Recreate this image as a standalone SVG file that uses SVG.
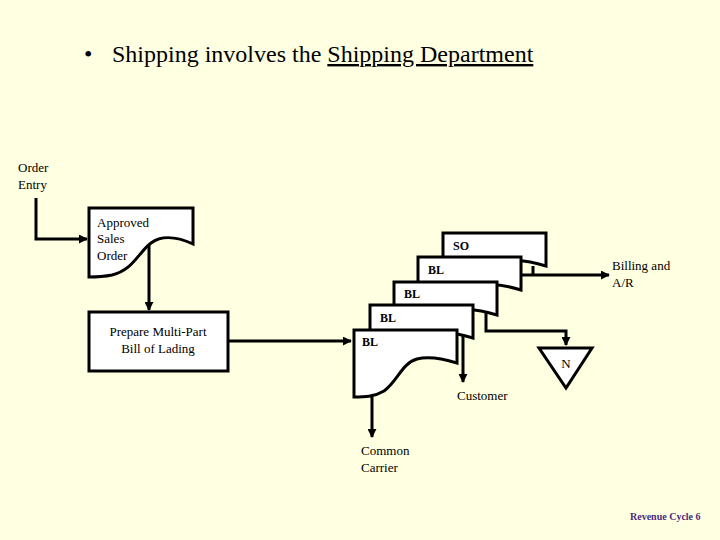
<svg xmlns="http://www.w3.org/2000/svg" width="720" height="540" viewBox="0 0 720 540">
<style>
.t{font-family:"Liberation Serif","Times New Roman",serif;fill:#000}
.s{font-size:13px}
.b{font-size:12px;font-weight:bold}
.doc{fill:#fff;stroke:#000;stroke-width:3;stroke-linejoin:miter}
.box{fill:#fff;stroke:#000;stroke-width:3}
.c{fill:none;stroke:#000;stroke-width:3}
</style>
<defs>
<marker id="ah" viewBox="0 0 10 10" refX="9" refY="5" markerWidth="3" markerHeight="3" orient="auto" markerUnits="strokeWidth">
<path d="M0,0 L10,5 L0,10 Z" fill="#000"/>
</marker>
<path id="bl" d="M0,0 H103 V33 C90,29 75,26 63,29 C48,33 43,52 30,61 C20,67 10,67 0,67 Z"/>
</defs>
<rect width="720" height="540" fill="#FFFFE1"/>
<g id="title">
<text class="t" x="84" y="62" font-size="24">•</text>
<text class="t" x="112" y="62" font-size="24">Shipping involves the <tspan text-decoration="underline">Shipping Department</tspan></text>
</g>
<g id="connectors">
<path class="c" d="M36,198 V239 H87" marker-end="url(#ah)"/>
<path class="c" d="M149,243 V310" marker-end="url(#ah)"/>
<path class="c" d="M228,341 H351" marker-end="url(#ah)"/>
<path class="c" d="M533,266 V275"/>
<path class="c" d="M522,275 H609" marker-end="url(#ah)"/>
<path class="c" d="M486,312 V331 H566 V345" marker-end="url(#ah)"/>
<path class="c" d="M463,336 V382" marker-end="url(#ah)"/>
<path class="c" d="M372,396 V437" marker-end="url(#ah)"/>
</g>
<g id="order-entry">
<text class="t s" x="18" y="172">Order</text>
<text class="t s" x="18" y="189">Entry</text>
</g>
<g id="approved-sales-order">
<path class="doc" d="M89,208 H193 V244 C178,237 162,235 151,243 C138,253 133,270 112,275 C102,277 95,277 89,277 Z"/>
<text class="t s" x="97" y="227">Approved</text>
<text class="t s" x="97" y="243">Sales</text>
<text class="t s" x="97" y="260">Order</text>
</g>
<g id="prepare">
<rect class="box" x="89" y="312" width="139" height="59"/>
<text class="t s" x="158" y="336" text-anchor="middle">Prepare Multi-Part</text>
<text class="t s" x="158" y="353" text-anchor="middle">Bill of Lading</text>
</g>
<g id="doc-so">
<use href="#bl" class="doc" x="443" y="233"/>
<text class="t b" x="453" y="250">SO</text>
</g>
<g id="doc-bl4">
<use href="#bl" class="doc" x="418" y="257"/>
<text class="t b" x="428" y="274">BL</text>
</g>
<g id="doc-bl3">
<use href="#bl" class="doc" x="394" y="282"/>
<text class="t b" x="404" y="298">BL</text>
</g>
<g id="doc-bl2">
<use href="#bl" class="doc" x="370" y="305"/>
<text class="t b" x="380" y="322">BL</text>
</g>
<g id="doc-bl1">
<use href="#bl" class="doc" x="354" y="330"/>
<text class="t b" x="362" y="346">BL</text>
</g>
<g id="billing">
<text class="t s" x="612" y="270">Billing and</text>
<text class="t s" x="612" y="287">A/R</text>
</g>
<g id="file-n">
<path class="doc" d="M539,348 H592 L566,388 Z"/>
<text class="t s" x="566" y="368" text-anchor="middle">N</text>
</g>
<g id="customer">
<text class="t s" x="457" y="400">Customer</text>
</g>
<g id="common-carrier">
<text class="t s" x="361" y="455">Common</text>
<text class="t s" x="361" y="472">Carrier</text>
</g>
<g id="footer">
<text x="630" y="520" font-family="Liberation Serif, serif" font-size="10" font-weight="bold" fill="#4B2C80">Revenue Cycle 6</text>
</g>
</svg>
